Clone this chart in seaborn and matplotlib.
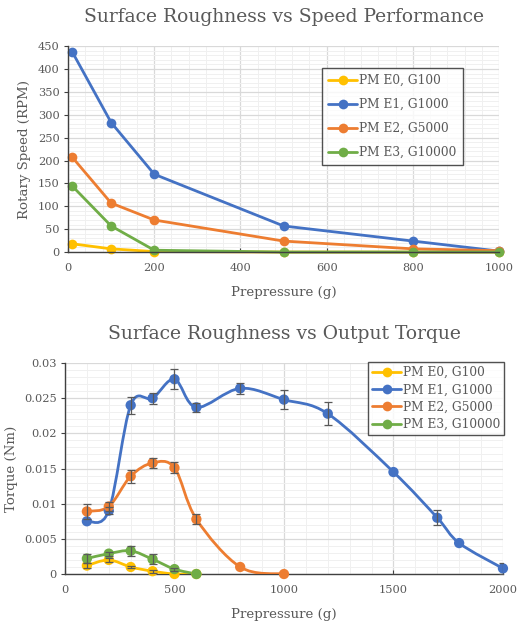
import matplotlib
matplotlib.use("Agg")
import matplotlib.pyplot as plt
import seaborn as sns
import numpy as np
import pandas as pd
from matplotlib.path import Path
from matplotlib.patches import PathPatch
from matplotlib.lines import Line2D
from matplotlib.ticker import MultipleLocator, FuncFormatter

# ---- data ----
series_names = ["PM E0, G100", "PM E1, G1000", "PM E2, G5000", "PM E3, G10000"]
series_colors = ["#FFC000", "#4472C4", "#ED7D31", "#70AD47"]

# Speed chart
speed_x = [10, 100, 200, 500, 800, 1000]
speed_e0 = [18, 7, 1, 0, 0, 0]
speed_e1 = [437, 283, 170, 57, 24, 2]
speed_e2 = [207, 107, 70, 24, 7, 3]
speed_e3 = [144, 57, 4, 0, 0, 0]

# Torque chart
torque_e0_x = [100, 200, 300, 400, 500, 600]
torque_e0 = [0.0012, 0.0020, 0.0010, 0.0004, 0.0, 0.0]
torque_e0_err = [0.0003, 0.0003, 0.0002, 0.0002, 0.0, 0.0]

torque_e1_x = [100, 200, 300, 400, 500, 600, 800, 1000, 1200, 1500, 1700, 1800, 2000]
torque_e1 = [0.0075, 0.0090, 0.0240, 0.0250, 0.0277, 0.0237, 0.0264, 0.0248, 0.0228, 0.0145, 0.0080, 0.0044, 0.0008]
torque_e1_err = [0.0, 0.0005, 0.0012, 0.0008, 0.0014, 0.0006, 0.0008, 0.0013, 0.0016, 0.0, 0.0011, 0.0, 0.0008]

torque_e2_x = [100, 200, 300, 400, 500, 600, 800, 1000]
torque_e2 = [0.0089, 0.0096, 0.0139, 0.0158, 0.0151, 0.0078, 0.0010, 0.0]
torque_e2_err = [0.0011, 0.0006, 0.0009, 0.0007, 0.0008, 0.0007, 0.0, 0.0]

torque_e3_x = [100, 200, 300, 400, 500, 600]
torque_e3 = [0.0022, 0.0029, 0.0033, 0.0021, 0.0007, 0.0]
torque_e3_err = [0.0006, 0.0003, 0.0007, 0.0007, 0.0002, 0.0]

TEXT = "#595959"
sns.set_theme(style="white")
plt.rcParams["font.family"] = ["DejaVu Serif"]
plt.rcParams["text.color"] = TEXT
plt.rcParams["axes.labelcolor"] = TEXT


def smooth_path(xs, ys):
    # Excel style smoothed line: Catmull-Rom segments as cubic Bezier
    pts = np.column_stack([xs, ys]).astype(float)
    n = len(pts)
    verts = [pts[0]]
    codes = [Path.MOVETO]
    for i in range(n - 1):
        p0 = pts[i - 1] if i > 0 else pts[i]
        p1 = pts[i]
        p2 = pts[i + 1]
        p3 = pts[i + 2] if i + 2 < n else pts[i + 1]
        c1 = p1 + (p2 - p0) / 6.0
        c2 = p2 - (p3 - p1) / 6.0
        verts += [c1, c2, p2]
        codes += [Path.CURVE4] * 3
    return Path(verts, codes)


def style_axes(ax, xmaj, xmin, ymaj, ymin):
    ax.xaxis.set_major_locator(MultipleLocator(xmaj))
    ax.xaxis.set_minor_locator(MultipleLocator(xmin))
    ax.yaxis.set_major_locator(MultipleLocator(ymaj))
    ax.yaxis.set_minor_locator(MultipleLocator(ymin))
    ax.grid(which="major", color="#D9D9D9", linewidth=0.9)
    ax.grid(which="minor", color="#F0F0F0", linewidth=0.7)
    ax.set_axisbelow(True)
    for s in ["top", "right"]:
        ax.spines[s].set_visible(False)
    for s in ["left", "bottom"]:
        ax.spines[s].set_color("#404040")
        ax.spines[s].set_linewidth(1.0)
    ax.tick_params(axis="y", which="major", labelsize=8.2, length=3, width=0.8,
                   color="#404040", labelcolor=TEXT, left=True, direction="out", pad=3)
    ax.tick_params(axis="x", which="major", labelsize=8.2, length=3, width=0.8,
                   color="#404040", labelcolor=TEXT, bottom=True, direction="in", pad=8)
    ax.tick_params(which="minor", length=0)
    ax.yaxis.set_major_formatter(FuncFormatter(lambda v, p: f"{v:g}"))


fig = plt.figure(figsize=(5.22, 6.27), dpi=100)

# ---- top chart ----
ax1 = fig.add_axes([0.1303, 0.598, 0.826, 0.3285])
speed_df = pd.DataFrame({
    "x": speed_x * 4,
    "y": speed_e0 + speed_e1 + speed_e2 + speed_e3,
    "series": sum([[n] * len(speed_x) for n in series_names], []),
})
sns.lineplot(data=speed_df, x="x", y="y", hue="series", palette=series_colors,
             hue_order=series_names, marker="o", markersize=7, markeredgewidth=0,
             linewidth=2, ax=ax1, legend=False)
for ln in ax1.lines:
    ln.set_clip_on(False)
ax1.set_xlim(0, 1000)
ax1.set_ylim(0, 450)
style_axes(ax1, 200, 40, 50, 10)
ax1.set_xlabel("Prepressure (g)", fontsize=9.6, labelpad=9)
ax1.set_ylabel("Rotary Speed (RPM)", fontsize=9.6, labelpad=5)
ax1.set_title("Surface Roughness vs Speed Performance", fontsize=13.5, color=TEXT, pad=17)

handles = [Line2D([], [], color=c, marker="o", markersize=7, markeredgewidth=0, linewidth=2)
           for c in series_colors]
leg1 = ax1.legend(handles, series_names, loc="upper left", bbox_to_anchor=(0.589, 0.895),
                  fontsize=8.8, frameon=True, fancybox=False, labelspacing=0.9,
                  handlelength=2.4, handletextpad=0.15, borderpad=0.5, borderaxespad=0)
leg1.get_frame().set_edgecolor("#262626")
leg1.get_frame().set_linewidth(1.0)

# ---- bottom chart ----
ax2 = fig.add_axes([0.1245, 0.0845, 0.839, 0.3365])
torque_sets = [
    (torque_e0_x, torque_e0, torque_e0_err),
    (torque_e1_x, torque_e1, torque_e1_err),
    (torque_e2_x, torque_e2, torque_e2_err),
    (torque_e3_x, torque_e3, torque_e3_err),
]
for (xs, ys, es), c, name in zip(torque_sets, series_colors, series_names):
    ax2.add_patch(PathPatch(smooth_path(xs, ys), facecolor="none", edgecolor=c,
                            linewidth=2, zorder=3, capstyle="round", joinstyle="round"))
    df = pd.DataFrame({"x": xs, "y": ys})
    sns.scatterplot(data=df, x="x", y="y", color=c, s=55, edgecolor="none", ax=ax2,
                    zorder=4, legend=False, clip_on=False)
    errs = np.array(es)
    mask = errs > 0
    ax2.errorbar(np.array(xs)[mask], np.array(ys)[mask], yerr=errs[mask], fmt="none",
                 ecolor="#595959", elinewidth=0.9, capsize=3, capthick=0.9, zorder=5)
ax2.set_xlim(0, 2000)
ax2.set_ylim(0, 0.03)
style_axes(ax2, 500, 100, 0.005, 0.001)
ax2.set_xlabel("Prepressure (g)", fontsize=9.6, labelpad=9)
ax2.set_ylabel("Torque (Nm)", fontsize=9.6)
ax2.yaxis.set_label_coords(-0.108, 0.5)
ax2.set_title("Surface Roughness vs Output Torque", fontsize=13.5, color=TEXT, pad=17)

leg2 = ax2.legend(handles, series_names, loc="upper right", bbox_to_anchor=(1.003, 1.003),
                  fontsize=8.8, frameon=True, fancybox=False, labelspacing=0.35,
                  handlelength=2.4, handletextpad=0.15, borderpad=0.3, borderaxespad=0)
leg2.get_frame().set_edgecolor("#262626")
leg2.get_frame().set_linewidth(1.0)

fig.savefig("out.png", dpi=100)
